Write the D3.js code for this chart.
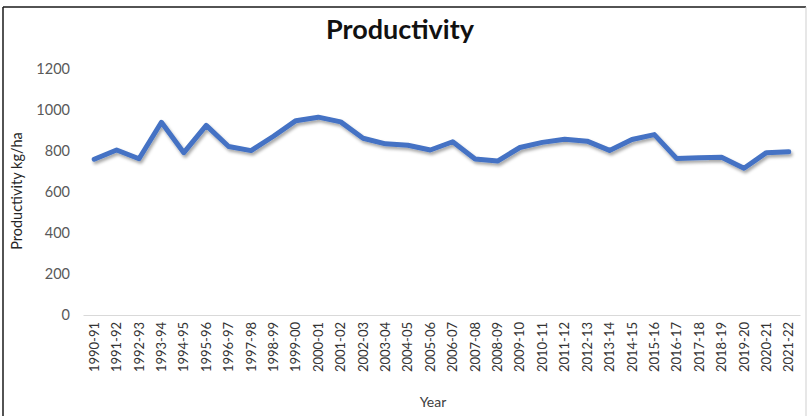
<!DOCTYPE html>
<html>
<head>
<meta charset="utf-8">
<script src="https://cdn.jsdelivr.net/npm/d3@7/dist/d3.min.js"></script>
<style>
  html, body { margin: 0; padding: 0; background: #fff; }
  svg { display: block; }
  text { font-family: Lato, "Open Sans", "DejaVu Sans", sans-serif; }
</style>
</head>
<body>
<svg id="chart" width="809" height="416"></svg>
<script>
// Crop years
const years = [
  "1990-91","1991-92","1992-93","1993-94","1994-95","1995-96","1996-97","1997-98",
  "1998-99","1999-00","2000-01","2001-02","2002-03","2003-04","2004-05","2005-06",
  "2006-07","2007-08","2008-09","2009-10","2010-11","2011-12","2012-13","2013-14",
  "2014-15","2015-16","2016-17","2017-18","2018-19","2019-20","2020-21","2021-22"
];
// Productivity (kg/ha)
const productivity = [
  760, 805, 762, 940, 792, 925, 822, 802,
  872, 948, 965, 942, 862, 835, 828, 805,
  845, 761, 751, 817, 842, 857, 848, 803,
  856, 880, 763, 767, 770, 716, 792, 796
];
const yTicks = [0, 200, 400, 600, 800, 1000, 1200];

const W = 809, H = 416;
const svg = d3.select("#chart");

// Chart frame
svg.append("line").attr("x1", 3).attr("x2", 3).attr("y1", 7).attr("y2", H)
  .attr("stroke", "#1a1a1a").attr("stroke-width", 1.5);
svg.append("line").attr("x1", 3).attr("x2", 806).attr("y1", 7).attr("y2", 7)
  .attr("stroke", "#1a1a1a").attr("stroke-width", 1.5);
svg.append("line").attr("x1", 806).attr("x2", 806).attr("y1", 7).attr("y2", H)
  .attr("stroke", "#cfcfcf").attr("stroke-width", 1);

const x = d3.scaleBand().domain(years).range([83, 800]);
const y = d3.scaleLinear().domain([0, 1200]).range([315, 69]);

// Title
svg.append("text").attr("x", 400).attr("y", 39).attr("text-anchor", "middle")
  .attr("font-size", 27).attr("font-weight", "bold").attr("fill", "#111")
  .text("Productivity");

// Y axis (labels only)
const yAxis = d3.axisLeft(y).tickValues(yTicks).tickSize(0).tickPadding(13)
  .tickFormat(d3.format("d"));
const gy = svg.append("g").attr("transform", "translate(83,0)").call(yAxis);
gy.select(".domain").remove();
gy.selectAll("text").attr("font-size", 14.5).attr("fill", "#595959")
  .attr("font-family", "Lato, 'Open Sans', sans-serif");

// X axis
const xAxis = d3.axisBottom(x).tickSize(0).tickPadding(6);
const gx = svg.append("g").attr("transform", "translate(0,315)").call(xAxis);
gx.select(".domain").attr("stroke", "#d9d9d9").attr("stroke-width", 1.2);
gx.selectAll("text")
  .attr("font-size", 13).attr("fill", "#333")
  .attr("font-family", "Lato, 'Open Sans', sans-serif")
  .attr("text-anchor", "end")
  .attr("transform", "rotate(-90)")
  .attr("x", -7).attr("y", 0).attr("dy", "0.35em");

// Axis titles
svg.append("text").attr("x", 433).attr("y", 407).attr("text-anchor", "middle")
  .attr("font-size", 14).attr("fill", "#404040").text("Year");
svg.append("text").attr("transform", "translate(22,191) rotate(-90)")
  .attr("text-anchor", "middle").attr("font-size", 14.5).attr("fill", "#262626")
  .text("Productivity kg/ha");

// Soft shadow under the line
const defs = svg.append("defs");
const f = defs.append("filter").attr("id", "shadow")
  .attr("x", "-5%").attr("y", "-20%").attr("width", "110%").attr("height", "140%");
f.append("feDropShadow").attr("dx", 1.5).attr("dy", 2.5).attr("stdDeviation", 1.6)
  .attr("flood-color", "#000").attr("flood-opacity", 0.35);

const line = d3.line()
  .x((d, i) => x(years[i]) + x.bandwidth() / 2)
  .y(d => y(d));

svg.append("path").datum(productivity)
  .attr("d", line)
  .attr("fill", "none")
  .attr("stroke", "#4472C4")
  .attr("stroke-width", 5)
  .attr("stroke-linejoin", "round")
  .attr("stroke-linecap", "round")
  .attr("filter", "url(#shadow)");
</script>
</body>
</html>
